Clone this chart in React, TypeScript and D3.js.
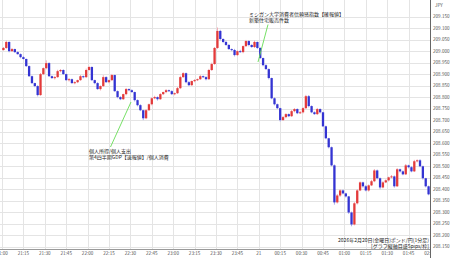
import React from "react";
import * as d3 from "d3";

// 2-minute bars from 21:00 (minutes offset = index*2)
const closes = [
  209.014, 209.040, 209.000, 209.009, 208.996, 208.987, 208.974, 208.966, 208.935, 208.891,
  208.861, 208.848, 208.809, 208.900, 208.926, 208.948, 208.891, 208.883, 208.887, 208.913,
  208.918, 208.900, 208.874, 208.878, 208.861, 208.865, 208.874, 208.891, 208.887, 208.918,
  208.931, 208.874, 208.861, 208.835, 208.848, 208.887, 208.865, 208.874, 208.896, 208.826,
  208.800, 208.791, 208.813, 208.835, 208.830, 208.822, 208.787, 208.765, 208.743, 208.708,
  208.743, 208.769, 208.795, 208.800, 208.791, 208.813, 208.822, 208.830, 208.826, 208.813,
  208.817, 208.839, 208.887, 208.904, 208.865, 208.852, 208.870, 208.874, 208.878, 208.891,
  208.887, 208.878, 208.918, 208.944, 209.014, 209.088, 209.053, 209.040, 209.027, 209.009,
  209.005, 208.983, 209.000, 208.996, 209.022, 209.044, 209.027, 209.018, 209.040, 209.014,
  208.970, 208.939, 208.922, 208.883, 208.795, 208.769, 208.752, 208.700, 208.713, 208.726,
  208.717, 208.739, 208.748, 208.730, 208.734, 208.752, 208.804, 208.761, 208.734, 208.726,
  208.748, 208.734, 208.673, 208.621, 208.582, 208.503, 208.342, 208.372, 208.394, 208.381,
  208.368, 208.298, 208.246, 208.338, 208.394, 208.429, 208.412, 208.394, 208.416, 208.434,
  208.481, 208.447, 208.407, 208.429, 208.438, 208.451, 208.455, 208.412, 208.486, 208.477,
  208.464, 208.503, 208.495, 208.477, 208.521, 208.525, 208.499, 208.447, 208.412, 208.377,
];
const firstOpen = 209.005;
// wick extensions in 0.001 yen
const wickUp = [
  4, 6, 3, 5, 2, 4, 3, 5, 2, 3, 3, 2, 4, 5, 3, 12, 4, 3, 5, 6,
  4, 3, 2, 5, 3, 4, 2, 5, 3, 6, 5, 3, 2, 4, 3, 8, 4, 3, 5, 2,
  3, 4, 2, 5, 3, 4, 2, 3, 4, 2, 5, 3, 4, 6, 3, 4, 2, 5, 3, 4,
  3, 5, 6, 4, 3, 5, 2, 4, 3, 5, 3, 4, 5, 6, 4, 15, 5, 3, 6, 4,
  3, 5, 4, 6, 3, 5, 4, 3, 6, 2, 3, 2, 4, 3, 2, 4, 3, 2, 5, 4,
  3, 5, 4, 3, 6, 4, 6, 5, 3, 4, 5, 3, 2, 3, 2, 3, 4, 6, 5, 4,
  3, 2, 4, 5, 6, 4, 3, 5, 4, 6, 6, 4, 3, 5, 4, 3, 6, 4, 5, 3,
  4, 6, 3, 5, 6, 4, 5, 3, 2, 3,
];
const wickDown = [
  3, 4, 5, 3, 4, 2, 5, 3, 4, 3, 4, 5, 6, 3, 4, 5, 3, 4, 6, 3,
  5, 3, 4, 6, 3, 5, 4, 3, 5, 4, 3, 4, 5, 3, 6, 4, 3, 5, 4, 3,
  5, 4, 3, 5, 4, 3, 6, 5, 4, 8, 4, 3, 5, 4, 6, 3, 4, 5, 3, 4,
  5, 3, 4, 3, 5, 4, 3, 5, 4, 3, 4, 5, 3, 4, 3, 4, 6, 5, 4, 3,
  5, 6, 4, 3, 5, 4, 6, 3, 4, 5, 4, 5, 3, 6, 4, 5, 4, 6, 3, 5,
  4, 3, 5, 4, 3, 5, 4, 6, 4, 3, 4, 5, 3, 4, 5, 4, 10, 5, 6, 4,
  5, 6, 8, 4, 5, 3, 6, 4, 5, 3, 4, 5, 8, 4, 3, 5, 4, 6, 3, 5,
  4, 3, 5, 4, 3, 5, 4, 6, 5, 4,
];
const yTickLabels = [
  "209.150", "209.100", "209.050", "209.000", "208.950", "208.900", "208.850",
  "208.800", "208.750", "208.700", "208.650", "208.600", "208.550", "208.500",
  "208.450", "208.400", "208.350", "208.300", "208.250", "208.200", "208.150",
];
const xTickLabels = [
  "21:00", "21:15", "21:30", "21:45", "22:00", "22:15", "22:30", "22:45",
  "23:00", "23:15", "23:30", "23:45", "21", "00:15", "00:30", "00:45",
  "01:00", "01:15", "01:30", "01:45", "02:00",
];
const noteLow = ["個人所得/個人支出", "第4四半期GDP【速報値】/個人消費"];
const noteHigh = ["ミシガン大学消費者信頼感指数【確報値】", "新築住宅販売件数"];
const footer = ["2026年2月20日(金曜日)ポンド/円(1分足)", "[グラフ縦軸目盛5pips/枠]"];

const FONT = "'Noto Sans CJK JP', 'Noto Sans', sans-serif";

export default function App() {
  const W = 450, H = 258;
  const right = 430, bottom = 249.5;
  const x = d3.scaleLinear().domain([0, 300]).range([2, 430]);
  const y = d3.scaleLinear().domain([208.15, 209.15]).range([246.5, 16.7]);
  const barW = 2.3;

  const bars = closes.map((c, i) => {
    const o = i === 0 ? firstOpen : closes[i - 1];
    const hi = Math.max(o, c) + wickUp[i] * 0.001;
    const lo = Math.min(o, c) - wickDown[i] * 0.001;
    return { t: i * 2 + 1, o, c, hi, lo, up: c >= o };
  });

  return (
    <svg width={W} height={H} style={{ position: "absolute", left: 0, top: 0, background: "#fff" }}>
      <defs>
        <clipPath id="plotclip">
          <rect x={0} y={0} width={right} height={H} />
        </clipPath>
      </defs>
      <rect x={0} y={0} width={W} height={H} fill="#fff" />
      {/* grid */}
      <g clipPath="url(#plotclip)">
        {yTickLabels.map((l) => (
          <line key={"h" + l} x1={0} x2={right} y1={Math.round(y(parseFloat(l))) + 0.5} y2={Math.round(y(parseFloat(l))) + 0.5} stroke="#e4e4e4" strokeWidth={1} />
        ))}
        {xTickLabels.map((l, i) => (
          <line key={"v" + i} x1={Math.round(x(i * 15)) + 0.5} x2={Math.round(x(i * 15)) + 0.5} y1={0} y2={bottom} stroke="#e4e4e4" strokeWidth={1} />
        ))}
      </g>
      {/* candles */}
      <g>
        {bars.map((b, i) => (
          <line key={"w" + i} x1={x(b.t)} x2={x(b.t)} y1={y(b.hi)} y2={y(b.lo)} stroke={b.up ? "#f2a6b0" : "#a9a9ee"} strokeWidth={1} />
        ))}
        {bars.map((b, i) => {
          const top = y(Math.max(b.o, b.c));
          const h = Math.max(1, y(Math.min(b.o, b.c)) - top);
          return (
            <rect key={"b" + i} x={x(b.t) - barW / 2} y={top} width={barW} height={h} fill={b.up ? "#e33b3b" : "#3434d2"} />
          );
        })}
      </g>
      {/* annotations */}
      <line x1={110.5} y1={147} x2={131} y2={102} stroke="#66dd55" strokeWidth={0.9} />
      <line x1={268} y1={24.5} x2={258} y2={62} stroke="#66dd55" strokeWidth={0.9} />
      <g fontFamily={FONT} fontSize={5} fill="#222">
        <text x={89} y={152.5}>{noteLow[0]}</text>
        <text x={89} y={158.5}>{noteLow[1]}</text>
        <text x={249} y={16}>{noteHigh[0]}</text>
        <text x={249} y={22}>{noteHigh[1]}</text>
      </g>
      <g fontFamily={FONT} fontSize={5} fill="#222" textAnchor="end">
        <text x={429} y={241.5}>{footer[0]}</text>
        <text x={429} y={247.5}>{footer[1]}</text>
      </g>
      {/* axes */}
      <line x1={0} x2={right} y1={bottom} y2={bottom} stroke="#9a9a9a" strokeWidth={1} />
      <line x1={right + 0.5} x2={right + 0.5} y1={0} y2={H} stroke="#666" strokeWidth={1} />
      <g fontFamily={FONT} fontSize={4.6} fill="#555">
        <text x={435} y={7}>JPY</text>
        {yTickLabels.map((l) => (
          <text key={"yl" + l} x={433} y={y(parseFloat(l)) + 1.7}>{l}</text>
        ))}
      </g>
      <g fontFamily={FONT} fontSize={4.6} fill="#555" textAnchor="middle" clipPath="url(#plotclip)">
        {xTickLabels.map((l, i) => (
          <text key={"xl" + i} x={x(i * 15)} y={255}>{l}</text>
        ))}
      </g>
    </svg>
  );
}
